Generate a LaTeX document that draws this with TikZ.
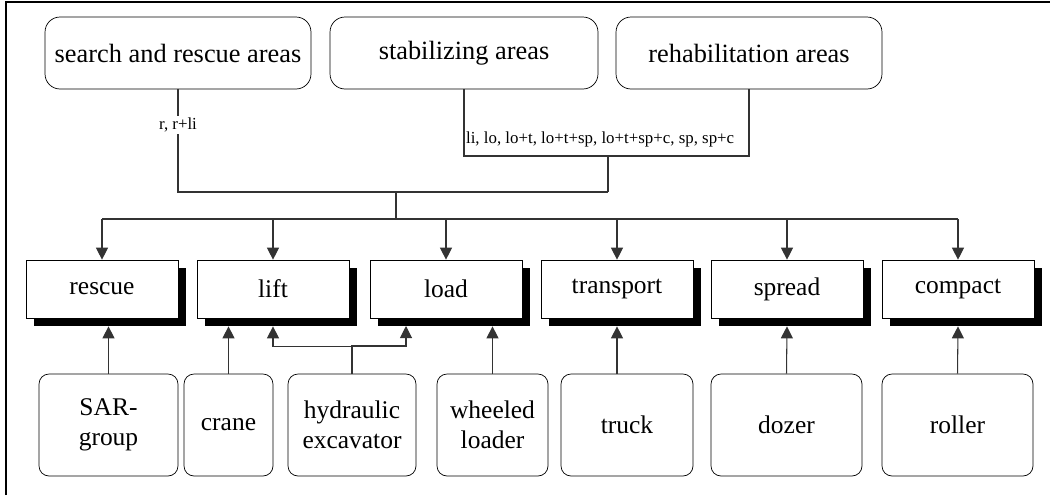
\documentclass[tikz,border=0pt]{standalone}
\usepackage{fontspec}
\setmainfont{Liberation Serif}
\usetikzlibrary{arrows.meta,calc,shadows}

\begin{document}
\begin{tikzpicture}[x=0.02cm,y=-0.02cm,
  area/.style={draw,rounded corners=0.3cm,minimum width=5.32cm,minimum height=1.44cm,font=\fontsize{15}{18}\selectfont},
  func/.style={draw,fill=white,minimum width=3.04cm,minimum height=1.16cm,
    general shadow={fill=black,shadow xshift=0.16cm,shadow yshift=-0.16cm},
    font=\fontsize{14.5}{17}\selectfont},
  res/.style={draw,rounded corners=0.2cm,minimum height=2.04cm,align=center,
    font=\fontsize{14.5}{17}\selectfont},
  lbl/.style={font=\fontsize{9.6}{11}\selectfont,inner sep=1pt},
  link/.style={draw=black!80,line width=0.6pt},
  arr/.style={link,-{Triangle[length=0.24cm,width=0.24cm]}}
]
\useasboundingbox (0,0) rectangle (1050,495);

% Frame (left and top only)
\draw[line width=1.1pt] (6,495) -- (6,2) -- (1050,2);

% Areas
\node[area] (sar) at (178,53) {search and rescue areas};
\node[area,minimum width=5.36cm] (stab) at (464,53) {stabilizing areas};
\node[area] (rehab) at (749,53) {rehabilitation areas};

% Functions
\foreach \name/\x in {rescue/102, lift/273, load/446, transport/617, spread/787, compact/958} {
    \node[func] (\name) at (\x,289) {\name};
}

% Resources
\node[res,minimum width=2.78cm] (sarg) at (108.5,425) {SAR-\\group};
\node[res,minimum width=1.78cm] (crane) at (228.5,425) {crane};
\node[res,minimum width=2.56cm] (exc) at (352,425) {hydraulic\\excavator};
\node[res,minimum width=2.22cm] (wheel) at (492.5,425) {wheeled\\loader};
\node[res,minimum width=2.64cm] (truck) at (627,425) {truck};
\node[res,minimum width=3.02cm] (dozer) at (786.5,425) {dozer};
\node[res,minimum width=3.02cm] (roller) at (957.5,425) {roller};

% Links from the areas
\coordinate (jup) at (608,192);
\coordinate (jstab) at (608,156);
\coordinate (top) at (396,192);
\coordinate (hub) at (396,219);
\draw[link] (sar.south) |- (jup);
\draw[link] (stab.south) |- (jstab) -| (rehab.south);
\draw[link] (jstab) -- (jup);
\draw[link] (top) -- (hub);
\node[lbl,fill=white] (sarlbl) at (178,125) {r, r+li};
\node[lbl,anchor=west] (stablbl) at (464,139) {li, lo, lo+t, lo+t+sp, lo+t+sp+c, sp, sp+c};

% Bus to the functions
\draw[link] (rescue.north |- hub) -- (compact.north |- hub);
\foreach \name in {rescue, lift, load, transport, spread, compact} {
    \draw[arr] (\name.north |- hub) -- (\name.north);
}

% Resources to functions
\draw[arr] (sarg.north) -- ($(sarg.north |- rescue.south)+(0,8)$);
\draw[arr] (crane.north) -- ($(crane.north |- lift.south)+(0,8)$);
\draw[arr] (wheel.north) -- ($(wheel.north |- load.south)+(0,8)$);
\draw[arr] (transport.south |- truck.north) -- ($(transport.south)+(0,8)$);
\draw[arr] (dozer.north) -- ($(spread.south)+(0,8)$);
\draw[arr] (roller.north) -- ($(compact.south)+(0,8)$);

% Excavator serves lift and load
\coordinate (exl) at (406,346);
\draw[arr] (exc.north) |- ($(lift.south)+(0,28)$) -- ($(lift.south)+(0,8)$);
\draw[arr] (exc.north) |- (exl) -- (406,326);

\end{tikzpicture}
\end{document}
